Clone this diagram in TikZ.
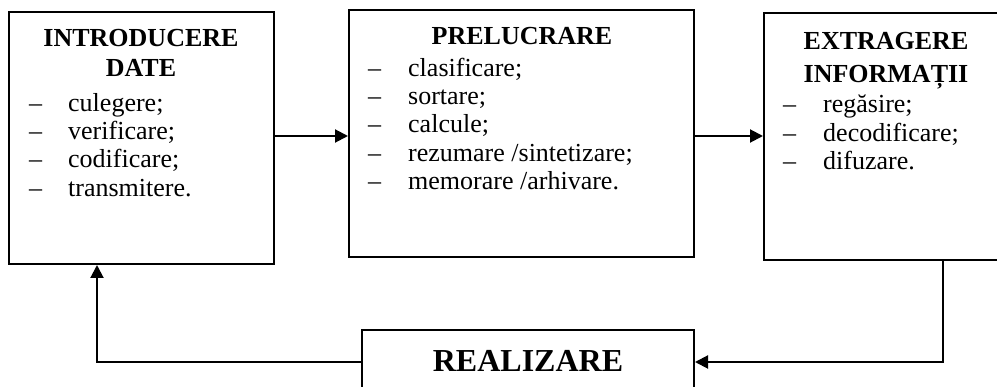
\documentclass[tikz,border=0pt]{standalone}
\usepackage{fontspec}
\setmainfont{Liberation Serif}
\usetikzlibrary{arrows.meta}
\begin{document}
\begin{tikzpicture}[x=1pt,y=-1pt,
  box/.style={draw,line width=2pt,rectangle,inner sep=0pt},
  conn/.style={line width=2pt},
  arr/.style={conn,-{Triangle[length=13pt,width=13pt]}},
  ttl/.style={anchor=base,font=\fontsize{26}{28}\selectfont\bfseries,inner sep=0pt},
  itm/.style={anchor=base west,font=\fontsize{26}{28}\selectfont,inner sep=0pt},
  dsh/.style={anchor=base west,font=\fontsize{26}{28}\selectfont,inner sep=0pt}]
\useasboundingbox (0,0) rectangle (997,387);
\clip (0,0) rectangle (997,387);
% boxes
\node[box,minimum width=265pt,minimum height=252pt] (b1) at (141.5,138) {};
\node[box,minimum width=345pt,minimum height=247pt] (b2) at (521.5,133.5) {};
\node[box,minimum width=241pt,minimum height=247pt] (b3) at (884.5,136.5) {};
\node[box,minimum width=332pt,minimum height=64pt] (b4) at (528,362) {};
% box 1 text
\node[ttl] (t1a) at (141,47) {INTRODUCERE};
\node[ttl] (t1b) at (141,77) {DATE};
\foreach \y/\t [count=\i] in {112/{culegere;},140/{verificare;},168/{codificare;},197/{transmitere.}}{
  \node[dsh] (d1\i) at (29,\y) {–};
  \node[itm] (i1\i) at (68,\y) {\t};
}
% box 2 text
\node[ttl] (t2) at (522,45) {PRELUCRARE};
\foreach \y/\t [count=\i] in {77/{clasificare;},105/{sortare;},133/{calcule;},162/{rezumare /sintetizare;},190/{memorare /arhivare.}}{
  \node[dsh] (d2\i) at (368,\y) {–};
  \node[itm] (i2\i) at (408,\y) {\t};
}
% box 3 text
\node[ttl] (t3a) at (886,50) {EXTRAGERE};
\node[ttl] (t3b) at (886,83) {INFORMAȚII};
\foreach \y/\t [count=\i] in {113/{regăsire;},142/{decodificare;},170/{difuzare.}}{
  \node[dsh] (d3\i) at (783,\y) {–};
  \node[itm] (i3\i) at (823,\y) {\t};
}
% box 4 text
\node[anchor=base,font=\fontsize{32}{36}\selectfont\bfseries,inner sep=0pt] (t4) at (528,372) {REALIZARE};
% connectors
\coordinate (ya) at (0,136);
\coordinate (xl) at (97,0);
\coordinate (xr) at (943,0);
\draw[arr] (b1.east |- ya) -- (b2.west |- ya);
\draw[arr] (b2.east |- ya) -- (b3.west |- ya);
\draw[arr] (b3.south -| xr) |- (b4.east);
\draw[arr] (b4.west) -| (b1.south -| xl);
\end{tikzpicture}
\end{document}
